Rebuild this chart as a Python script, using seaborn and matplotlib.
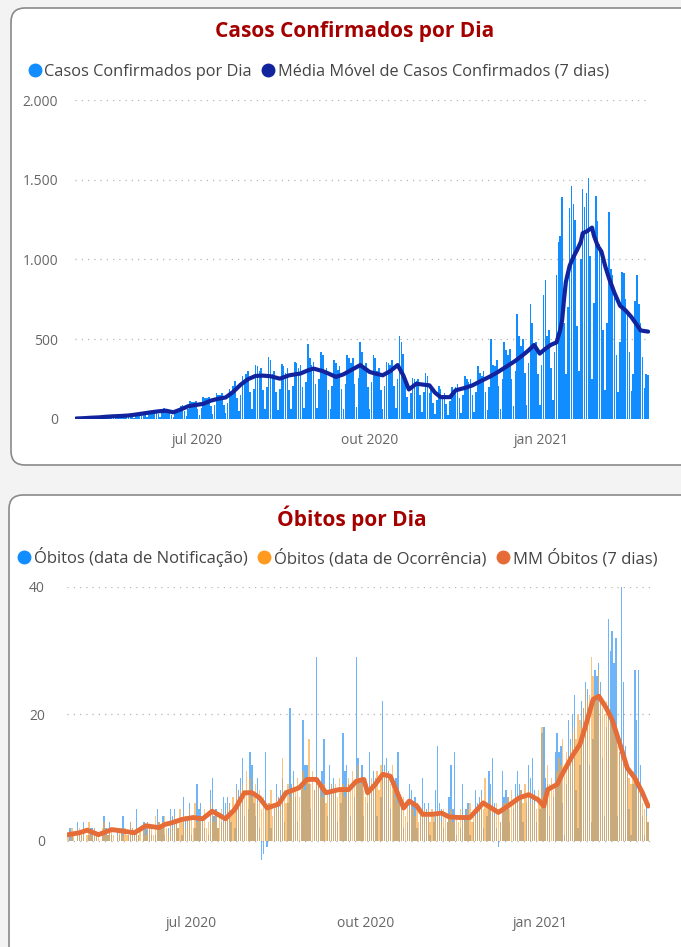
import pandas as pd
import matplotlib
matplotlib.use("Agg")
import matplotlib.pyplot as plt
import seaborn as sns
from matplotlib.patches import FancyBboxPatch
from matplotlib.lines import Line2D

sns.set_theme(style="white")
plt.rcParams["font.family"] = ["Open Sans", "DejaVu Sans"]

inicio = pd.Timestamp("2020-04-27")

# casos confirmados por dia (linhas = semanas)
casos = [
    6, 8, 4, 1, 3, 9, 10,
    12, 14, 7, 2, 6, 15, 13,
    18, 20, 10, 4, 12, 22, 19,
    22, 25, 14, 5, 16, 30, 26,
    30, 34, 18, 7, 20, 40, 36,
    42, 46, 25, 10, 30, 52, 48,
    55, 58, 30, 12, 38, 66, 60,
    50, 52, 28, 10, 35, 60, 62,
    80, 88, 50, 18, 60, 110, 105,
    105, 112, 60, 25, 72, 140, 130,
    130, 140, 80, 30, 90, 165, 150,
    150, 160, 90, 35, 100, 185, 170,
    210, 240, 130, 50, 150, 270, 250,
    280, 300, 170, 60, 190, 340, 330,
    300, 320, 180, 60, 200, 390, 370,
    280, 300, 170, 55, 190, 345, 330,
    290, 320, 180, 60, 210, 360, 350,
    320, 340, 200, 70, 230, 470, 380,
    340, 360, 220, 70, 250, 420, 400,
    300, 320, 180, 60, 210, 370, 350,
    310, 330, 190, 65, 220, 400, 380,
    350, 380, 220, 75, 260, 480, 420,
    330, 350, 200, 65, 230, 400, 380,
    300, 320, 180, 60, 210, 360, 350,
    340, 370, 210, 70, 250, 520, 480,
    410, 230, 140, 40, 160, 260, 250,
    240, 250, 150, 45, 170, 290, 270,
    160, 180, 100, 30, 120, 210, 190,
    150, 165, 95, 28, 110, 200, 180,
    200, 220, 130, 40, 150, 270, 250,
    230, 250, 150, 45, 170, 330, 290,
    270, 300, 170, 55, 200, 500, 340,
    330, 370, 210, 65, 250, 480, 430,
    400, 440, 250, 80, 300, 660, 520,
    460, 500, 290, 90, 350, 720, 600,
    450, 480, 280, 90, 340, 780, 870,
    520, 560, 320, 120, 420, 900, 1110,
    1150, 1390, 600, 280, 700, 1320, 1460,
    1350, 1250, 580, 300, 1000, 1440, 1330,
    1420, 1510, 1020, 250, 730, 1400, 1240,
    1100, 1000, 560, 180, 600, 1300, 940,
    900, 800, 400, 170, 480, 920, 915,
    750, 650, 420, 175, 280, 740, 905,
    720, 600, 390, 195, 280, 278,
]

# média móvel (dia desde o início, valor)
casos_mm_dia = [0, 4, 8, 12, 16, 20, 24, 28, 32, 36, 40, 44, 48, 52, 56, 60,
                64, 68, 72, 76, 80, 84, 88, 92, 96, 100, 104, 109, 114, 120,
                124, 127, 132, 135, 139, 143, 147, 152, 157, 160, 164, 168,
                172, 175, 178, 182, 186, 189, 192, 195, 200, 203, 208, 212,
                216, 221, 225, 230, 235, 239, 242, 245, 248, 251, 254, 257,
                259, 260, 261, 262, 264, 266, 268, 270, 271, 273, 276, 277,
                279, 281, 283, 285, 288, 291, 294, 297, 300, 302, 306]
casos_mm = [3, 5, 8, 10, 14, 17, 19, 22, 28, 35, 42, 48, 52, 42, 60, 80,
            88, 95, 115, 127, 135, 170, 215, 250, 270, 272, 268, 253, 274, 285,
            305, 316, 300, 285, 264, 280, 306, 338, 295, 285, 274, 300,
            338, 274, 185, 221, 215, 211, 165, 137, 137, 180, 195, 211,
            235, 264, 290, 327, 365, 401, 430, 464, 410, 440, 465, 480,
            560, 620, 750, 860, 960, 1015, 1060, 1110, 1165, 1175, 1200, 1150,
            1086, 1050, 960, 885, 790, 710, 680, 640, 590, 555, 548]

# óbitos por data de notificação
obitos_notif = [
    0, 2, 1, 0, 0, 3, 1,
    1, 3, 0, 0, 1, 2, 2,
    2, 1, 0, 0, 1, 4, 2,
    1, 3, 1, 0, 0, 2, 1,
    2, 4, 0, 0, 1, 3, 2,
    1, 5, 1, 0, 0, 3, 2,
    3, 2, 1, 0, 1, 5, 3,
    2, 4, 1, 0, 2, 5, 4,
    5, 3, 2, 0, 1, 7, 4,
    4, 6, 1, 0, 2, 9, 5,
    6, 4, 2, 0, 1, 8, 10,
    4, 5, 2, 0, 3, 7, 6,
    7, 6, 3, 0, 2, 9, 8,
    10, 13, 4, 0, 5, 14, 12,
    6, 4, 10, 2, -3, -2, 14,
    -1, 6, 2, 0, 5, 9, 7,
    8, 10, 3, 0, 6, 21, 9,
    11, 7, 3, 0, 8, 19, 12,
    12, 9, 5, 0, 8, 29, 10,
    9, 11, 16, 0, 4, 12, 9,
    10, 8, 3, 0, 6, 17, 11,
    12, 9, 4, 0, 7, 29, 13,
    10, 12, 4, 0, 6, 14, 9,
    11, 10, 4, 0, 7, 22, 12,
    13, 11, 5, 0, 8, 10, 14,
    7, 6, 2, 0, 3, 9, 8,
    6, 7, 2, 0, 4, 10, 6,
    5, 6, 1, 0, 3, 8, 15,
    6, 5, 2, 0, 3, 7, 12,
    5, 14, 1, 0, 2, 9, 4,
    5, 6, 1, 0, 3, 8, 6,
    7, 8, 2, 0, 4, 11, 9,
    13, 6, 2, -1, 3, 11, 7,
    8, 7, 3, 0, 5, 9, 11,
    9, 8, 3, 0, 6, 12, 10,
    13, 8, 3, 0, 5, 17, 18,
    10, 9, 4, 0, 7, 14, 17,
    14, 15, 6, 1, 9, 19, 16,
    20, 23, 8, 2, 12, 22, 21,
    25, 24, 12, 3, 16, 27, 26,
    28, 25, 13, 4, 18, 35, 30,
    33, 28, 32, 4, 14, 40, 25,
    15, 12, 5, 1, 9, 27, 19,
    27, 12, 4, 1, 6, 3,
]

# óbitos por data de ocorrência
obitos_ocorr = [
    1, 0, 2, 1, 0, 1, 2,
    1, 2, 0, 1, 3, 1, 1,
    2, 1, 1, 0, 2, 3, 1,
    1, 2, 2, 1, 0, 1, 2,
    2, 1, 2, 1, 1, 3, 2,
    1, 2, 1, 2, 0, 2, 1,
    3, 2, 2, 1, 4, 2, 3,
    2, 3, 4, 2, 1, 3, 2,
    4, 3, 2, 5, 3, 4, 2,
    3, 5, 4, 2, 6, 3, 4,
    4, 3, 5, 2, 3, 6, 5,
    3, 4, 2, 4, 5, 3, 4,
    5, 6, 4, 7, 5, 8, 6,
    8, 9, 7, 11, 8, 10, 7,
    7, 9, 6, 8, 5, 7, 6,
    5, 6, 8, 4, 6, 7, 5,
    7, 13, 8, 6, 9, 7, 8,
    9, 8, 10, 7, 9, 11, 8,
    10, 16, 9, 11, 8, 10, 9,
    8, 7, 9, 6, 8, 7, 9,
    8, 9, 7, 10, 8, 9, 7,
    9, 10, 8, 11, 9, 10, 12,
    10, 9, 8, 7, 9, 8, 10,
    9, 10, 11, 8, 12, 10, 11,
    11, 10, 9, 12, 8, 7, 6,
    6, 5, 7, 4, 6, 5, 6,
    5, 4, 6, 3, 5, 4, 5,
    4, 5, 3, 5, 4, 3, 4,
    4, 3, 5, 4, 3, 4, 5,
    3, 4, 4, 3, 5, 4, 3,
    4, 5, 6, 3, 4, 5, 4,
    6, 7, 5, 10, 6, 5, 7,
    5, 4, 6, 5, 3, 5, 6,
    6, 7, 5, 8, 6, 7, 6,
    7, 8, 6, 9, 7, 8, 6,
    7, 6, 5, 8, 6, 18, 7,
    8, 12, 9, 10, 8, 9, 11,
    13, 12, 16, 11, 14, 13, 15,
    17, 18, 16, 20, 19, 18, 21,
    24, 22, 23, 29, 26, 23, 22,
    27, 23, 21, 20, 22, 19, 20,
    18, 17, 16, 15, 14, 13, 12,
    11, 12, 10, 9, 11, 10, 8,
    8, 7, 6, 5, 4, 3,
]

obitos_mm_dia = [0, 6, 10, 16, 23, 30, 35, 41, 48, 51, 55, 60, 66, 71, 76,
                 83, 88, 93, 97, 101, 105, 111, 115, 122, 126, 131, 136, 143,
                 148, 152, 156, 158, 162, 166, 170, 173, 177, 180, 184, 187,
                 192, 197, 201, 206, 212, 219, 227, 232, 238, 243, 248, 251,
                 253, 258, 261, 266, 270, 273, 277, 280, 284, 287, 291, 295,
                 299, 303, 306]
obitos_mm = [1.0, 1.3, 1.7, 1.0, 1.8, 1.5, 1.3, 2.4, 2.1, 2.6, 2.9, 3.4, 3.7,
             3.5, 4.7, 3.5, 5.0, 7.6, 7.6, 6.8, 5.2, 5.8, 7.6, 8.4, 9.7, 9.7,
             7.6, 8.1, 8.1, 9.4, 9.7, 7.6, 8.9, 10.5, 10.2, 8.1, 5.2, 6.3, 5.5,
             4.2, 4.2, 4.4, 3.8, 3.7, 3.7, 6.0, 4.5, 5.5, 6.8, 7.3, 6.5, 5.5,
             8.1, 8.9, 10.7, 13.4, 15.2, 18.1, 22.3, 22.8, 20.9, 19.1, 15.4,
             11.5, 9.9, 7.6, 5.5]

meses = ["2020-07-01", "2020-10-01", "2021-01-01"]
meses_rotulos = ["jul 2020", "out 2020", "jan 2021"]
casos_ticks = [0, 500, 1000, 1500, 2000]
casos_rotulos = ["0", "500", "1.000", "1.500", "2.000"]
obitos_ticks = [0, 20, 40]

dias = pd.date_range(inicio, periods=len(casos))
dias_ob = pd.date_range(inicio, periods=len(obitos_notif))
mm_c = pd.DataFrame({"data": inicio + pd.to_timedelta(casos_mm_dia, unit="D"),
                     "valor": casos_mm})
mm_o = pd.DataFrame({"data": inicio + pd.to_timedelta(obitos_mm_dia, unit="D"),
                     "valor": obitos_mm})

W, H = 681, 947
fig = plt.figure(figsize=(W / 100, H / 100), dpi=100, facecolor="#F3F3F3")

# fundo com os cartões
bg = fig.add_axes([0, 0, 1, 1], zorder=0)
bg.set_xlim(0, W)
bg.set_ylim(H, 0)
bg.axis("off")
for (x0, y0, x1, y1) in [(11, 8, 700, 465), (9, 495, 700, 980)]:
    bg.add_patch(FancyBboxPatch((x0, y0), x1 - x0, y1 - y0,
                                boxstyle="round,pad=0,rounding_size=14",
                                fc="white", ec="#8A8A8A", lw=1.2))

titulo_cor = "#A50000"
cinza = "#666666"
pontilhado = (0, (1, 4))


def fmt_axes(ax):
    sns.despine(ax=ax, left=True, bottom=True)
    ax.set_facecolor("none")
    ax.set_axisbelow(True)
    ax.yaxis.grid(True, linestyle=pontilhado, color="#B5B5B5", lw=0.9)
    ax.xaxis.grid(False)
    ax.tick_params(axis="both", length=0, colors=cinza, labelsize=10)
    ax.set_xlabel("")
    ax.set_ylabel("")
    ax.set_xticks(pd.to_datetime(meses), meses_rotulos)


# ---- Casos ----
ax1 = fig.add_axes([75 / W, 1 - 419 / H, 575 / W, 319 / H], zorder=2)
ax1.bar(dias, casos, width=0.85, color="#118DFF", lw=0)
sns.lineplot(data=mm_c, x="data", y="valor", ax=ax1, color="#12239E", lw=3)
ax1.set_ylim(0, 2000)
ax1.set_xlim(dias[0] - pd.Timedelta(days=0.6), dias[-1] + pd.Timedelta(days=1))
ax1.set_yticks(casos_ticks, casos_rotulos)
fmt_axes(ax1)
ax1.tick_params(axis="y", pad=12)
ax1.tick_params(axis="x", pad=10)

fig.text(355 / W, 1 - 31 / H, "Casos Confirmados por Dia", ha="center",
         va="center", fontsize=15, fontweight="bold", color=titulo_cor)
h1 = [Line2D([], [], marker="o", ls="", color="#118DFF", markersize=9),
      Line2D([], [], marker="o", ls="", color="#12239E", markersize=9)]
fig.legend(h1, ["Casos Confirmados por Dia",
                "Média Móvel de Casos Confirmados (7 dias)"],
           loc="center left", bbox_to_anchor=(28 / W, 1 - 72 / H), ncol=2,
           frameon=False, handletextpad=0.2, handlelength=0.8,
           columnspacing=0.6, fontsize=11.8, labelcolor="#444444",
           borderaxespad=0, borderpad=0)

# ---- Óbitos ----
ax2 = fig.add_axes([67 / W, 1 - 904.5 / H, 583 / W, 317.5 / H], zorder=2)
ax2.bar(dias_ob, obitos_notif, width=0.7, color="#3E9BF5", alpha=0.75, lw=0)
ax2.bar(dias_ob, obitos_ocorr, width=0.7, color="#F9A63A", alpha=0.65, lw=0)
sns.lineplot(data=mm_o, x="data", y="valor", ax=ax2, color="#E66C37", lw=3.5)
ax2.set_ylim(-10, 40)
ax2.set_xlim(dias_ob[0] - pd.Timedelta(days=0.6),
             dias_ob[-1] + pd.Timedelta(days=1))
ax2.set_yticks(obitos_ticks)
fmt_axes(ax2)
ax2.tick_params(axis="y", pad=16)
ax2.tick_params(axis="x", pad=8)

fig.text(352 / W, 1 - 518 / H, "Óbitos por Dia", ha="center", va="center",
         fontsize=15, fontweight="bold", color=titulo_cor)
h2 = [Line2D([], [], marker="o", ls="", color="#118DFF", markersize=9),
      Line2D([], [], marker="o", ls="", color="#FF9A1F", markersize=9),
      Line2D([], [], marker="o", ls="", color="#E66C37", markersize=9)]
fig.legend(h2, ["Óbitos (data de Notificação)", "Óbitos (data de Ocorrência)",
                "MM Óbitos (7 dias)"],
           loc="center left", bbox_to_anchor=(17 / W, 1 - 557 / H), ncol=3,
           frameon=False, handletextpad=0.2, handlelength=0.8,
           columnspacing=0.6, fontsize=12, labelcolor="#444444",
           borderaxespad=0, borderpad=0)

fig.savefig("out.png", dpi=100, facecolor=fig.get_facecolor())
